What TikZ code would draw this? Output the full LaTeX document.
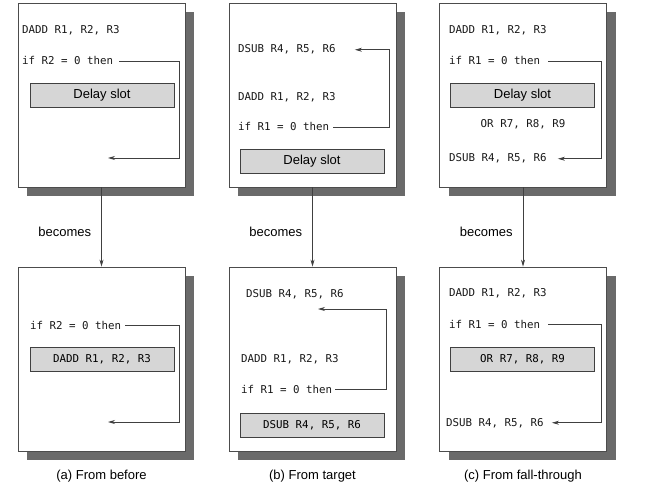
\documentclass[tikz,border=0pt]{standalone}
\usepackage{fontspec}
\setmainfont{Liberation Sans}
\newfontfamily\codefont{DejaVu Sans Mono}
\usetikzlibrary{shadows,positioning,arrows.meta}

\definecolor{shadowgray}{HTML}{6A6A6A}
\definecolor{slotgray}{HTML}{D6D6D6}

\begin{document}
\begin{tikzpicture}[x=1pt, y=-1pt]
    % pixel grid of the page, y grows downwards
    \useasboundingbox (0,0) rectangle (668,502);

    \tikzstyle{panel} = [rectangle, draw=black!70, line width=0.8pt, fill=white, minimum width=167pt, minimum height=184pt, drop shadow={shadow xshift=9pt, shadow yshift=-9pt, fill=shadowgray, opacity=1}]
    \tikzstyle{slot} = [rectangle, draw=black!75, line width=0.8pt, fill=slotgray, minimum width=144pt, minimum height=24pt, inner sep=0pt, text centered, font=\fontsize{13}{15}\selectfont]
    \tikzstyle{codeslot} = [slot, font=\codefont\fontsize{10.8}{13}\selectfont]
    \tikzstyle{code} = [anchor=base west, inner sep=0pt, text=black!90, font=\codefont\fontsize{10.8}{13}\selectfont]
    \tikzstyle{caption} = [inner sep=0pt, font=\fontsize{13}{15}\selectfont]
    \tikzstyle{arrow} = [line width=0.7pt, draw=black!75, ->, >={Stealth[length=7pt,width=4pt]}]

            % node[Options](Name){Text}
            \node (Panel_A_Top) [panel] at (101.5,95) {};
            \node (Panel_B_Top) [panel] at (312.5,95) {};
            \node (Panel_C_Top) [panel] at (523,95) {};
            \node (Panel_A_Bottom) [panel] at (101.5,359) {};
            \node (Panel_B_Bottom) [panel] at (312.5,359) {};
            \node (Panel_C_Bottom) [panel] at (523,359) {};

            % (a) from before
            \node (Dadd_A_Top) [code] at (22,34) {DADD R1, R2, R3};
            \node (If_A_Top) [code] at (22,65) {if R2 = 0 then};
            \node (Slot_A_Top) [slot] at (102,95.5) {Delay slot};
            \coordinate (Rail_A_Top) at (179,0);
            \coordinate (Target_A_Top) at (108,158);

            \node (If_A_Bottom) [code] at (30,329) {if R2 = 0 then};
            \node (Slot_A_Bottom) [codeslot] at (102,359) {DADD R1, R2, R3};
            \coordinate (Rail_A_Bottom) at (179,0);
            \coordinate (Target_A_Bottom) at (108,422);

            % (b) from target
            \node (Dsub_B_Top) [code] at (238,53) {DSUB R4, R5, R6};
            \node (Dadd_B_Top) [code] at (238,101) {DADD R1, R2, R3};
            \node (If_B_Top) [code] at (238,131) {if R1 = 0 then};
            \node (Slot_B_Top) [slot] at (312,161.5) {Delay slot};
            \coordinate (Rail_B_Top) at (389,0);

            \node (Dsub_B_Bottom) [code] at (246,297) {DSUB R4, R5, R6};
            \node (Dadd_B_Bottom) [code] at (241,362) {DADD R1, R2, R3};
            \node (If_B_Bottom) [code] at (241,393) {if R1 = 0 then};
            \node (Slot_B_Bottom) [codeslot] at (312,425) {DSUB R4, R5, R6};
            \coordinate (Rail_B_Bottom) at (386,0);
            \coordinate (Target_B_Bottom) at (318,309);

            % (c) from fall-through
            \node (Dadd_C_Top) [code] at (449,34) {DADD R1, R2, R3};
            \node (If_C_Top) [code] at (449,65) {if R1 = 0 then};
            \node (Slot_C_Top) [slot] at (522.5,95) {Delay slot};
            \node (Or_C_Top) [code, anchor=base] at (523,128) {OR R7, R8, R9};
            \node (Dsub_C_Top) [code] at (449,162) {DSUB R4, R5, R6};
            \coordinate (Rail_C_Top) at (601,0);

            \node (Dadd_C_Bottom) [code] at (449,296) {DADD R1, R2, R3};
            \node (If_C_Bottom) [code] at (449,328) {if R1 = 0 then};
            \node (Slot_C_Bottom) [codeslot] at (522.5,359) {OR R7, R8, R9};
            \node (Dsub_C_Bottom) [code] at (446,426) {DSUB R4, R5, R6};
            \coordinate (Rail_C_Bottom) at (601,0);

            % captions
            \node (Caption_A) [caption, below=18pt of Panel_A_Bottom] {(a) From before};
            \node (Caption_B) [caption, below=18pt of Panel_B_Bottom] {(b) From target};
            \node (Caption_C) [caption, below=18pt of Panel_C_Bottom] {(c) From fall-through};

            % ----- ----- ----- ----- ----- ----- ----- ----- ----- ----- ----- ----- -----

            \draw [arrow, shorten <=6pt] (If_A_Top.east) -- (If_A_Top.east -| Rail_A_Top) |- (Target_A_Top);
            \draw [arrow, shorten <=4pt] (If_A_Bottom.east) -- (If_A_Bottom.east -| Rail_A_Bottom) |- (Target_A_Bottom);
            \draw [arrow, shorten <=4pt, shorten >=19pt] (If_B_Top.east) -- (If_B_Top.east -| Rail_B_Top) |- (Dsub_B_Top.east);
            \draw [arrow, shorten <=3pt] (If_B_Bottom.east) -- (If_B_Bottom.east -| Rail_B_Bottom) |- (Target_B_Bottom);
            \draw [arrow, shorten <=8pt, shorten >=11pt] (If_C_Top.east) -- (If_C_Top.east -| Rail_C_Top) |- (Dsub_C_Top.east);
            \draw [arrow, shorten <=8pt, shorten >=8pt] (If_C_Bottom.east) -- (If_C_Bottom.east -| Rail_C_Bottom) |- (Dsub_C_Bottom.east);

            \draw [arrow] (Panel_A_Top) -- node[pos=0.56, left=10pt, caption] {becomes} (Panel_A_Bottom);
            \draw [arrow] (Panel_B_Top) -- node[pos=0.56, left=10pt, caption] {becomes} (Panel_B_Bottom);
            \draw [arrow] (Panel_C_Top) -- node[pos=0.56, left=10pt, caption] {becomes} (Panel_C_Bottom);
\end{tikzpicture}
\end{document}
